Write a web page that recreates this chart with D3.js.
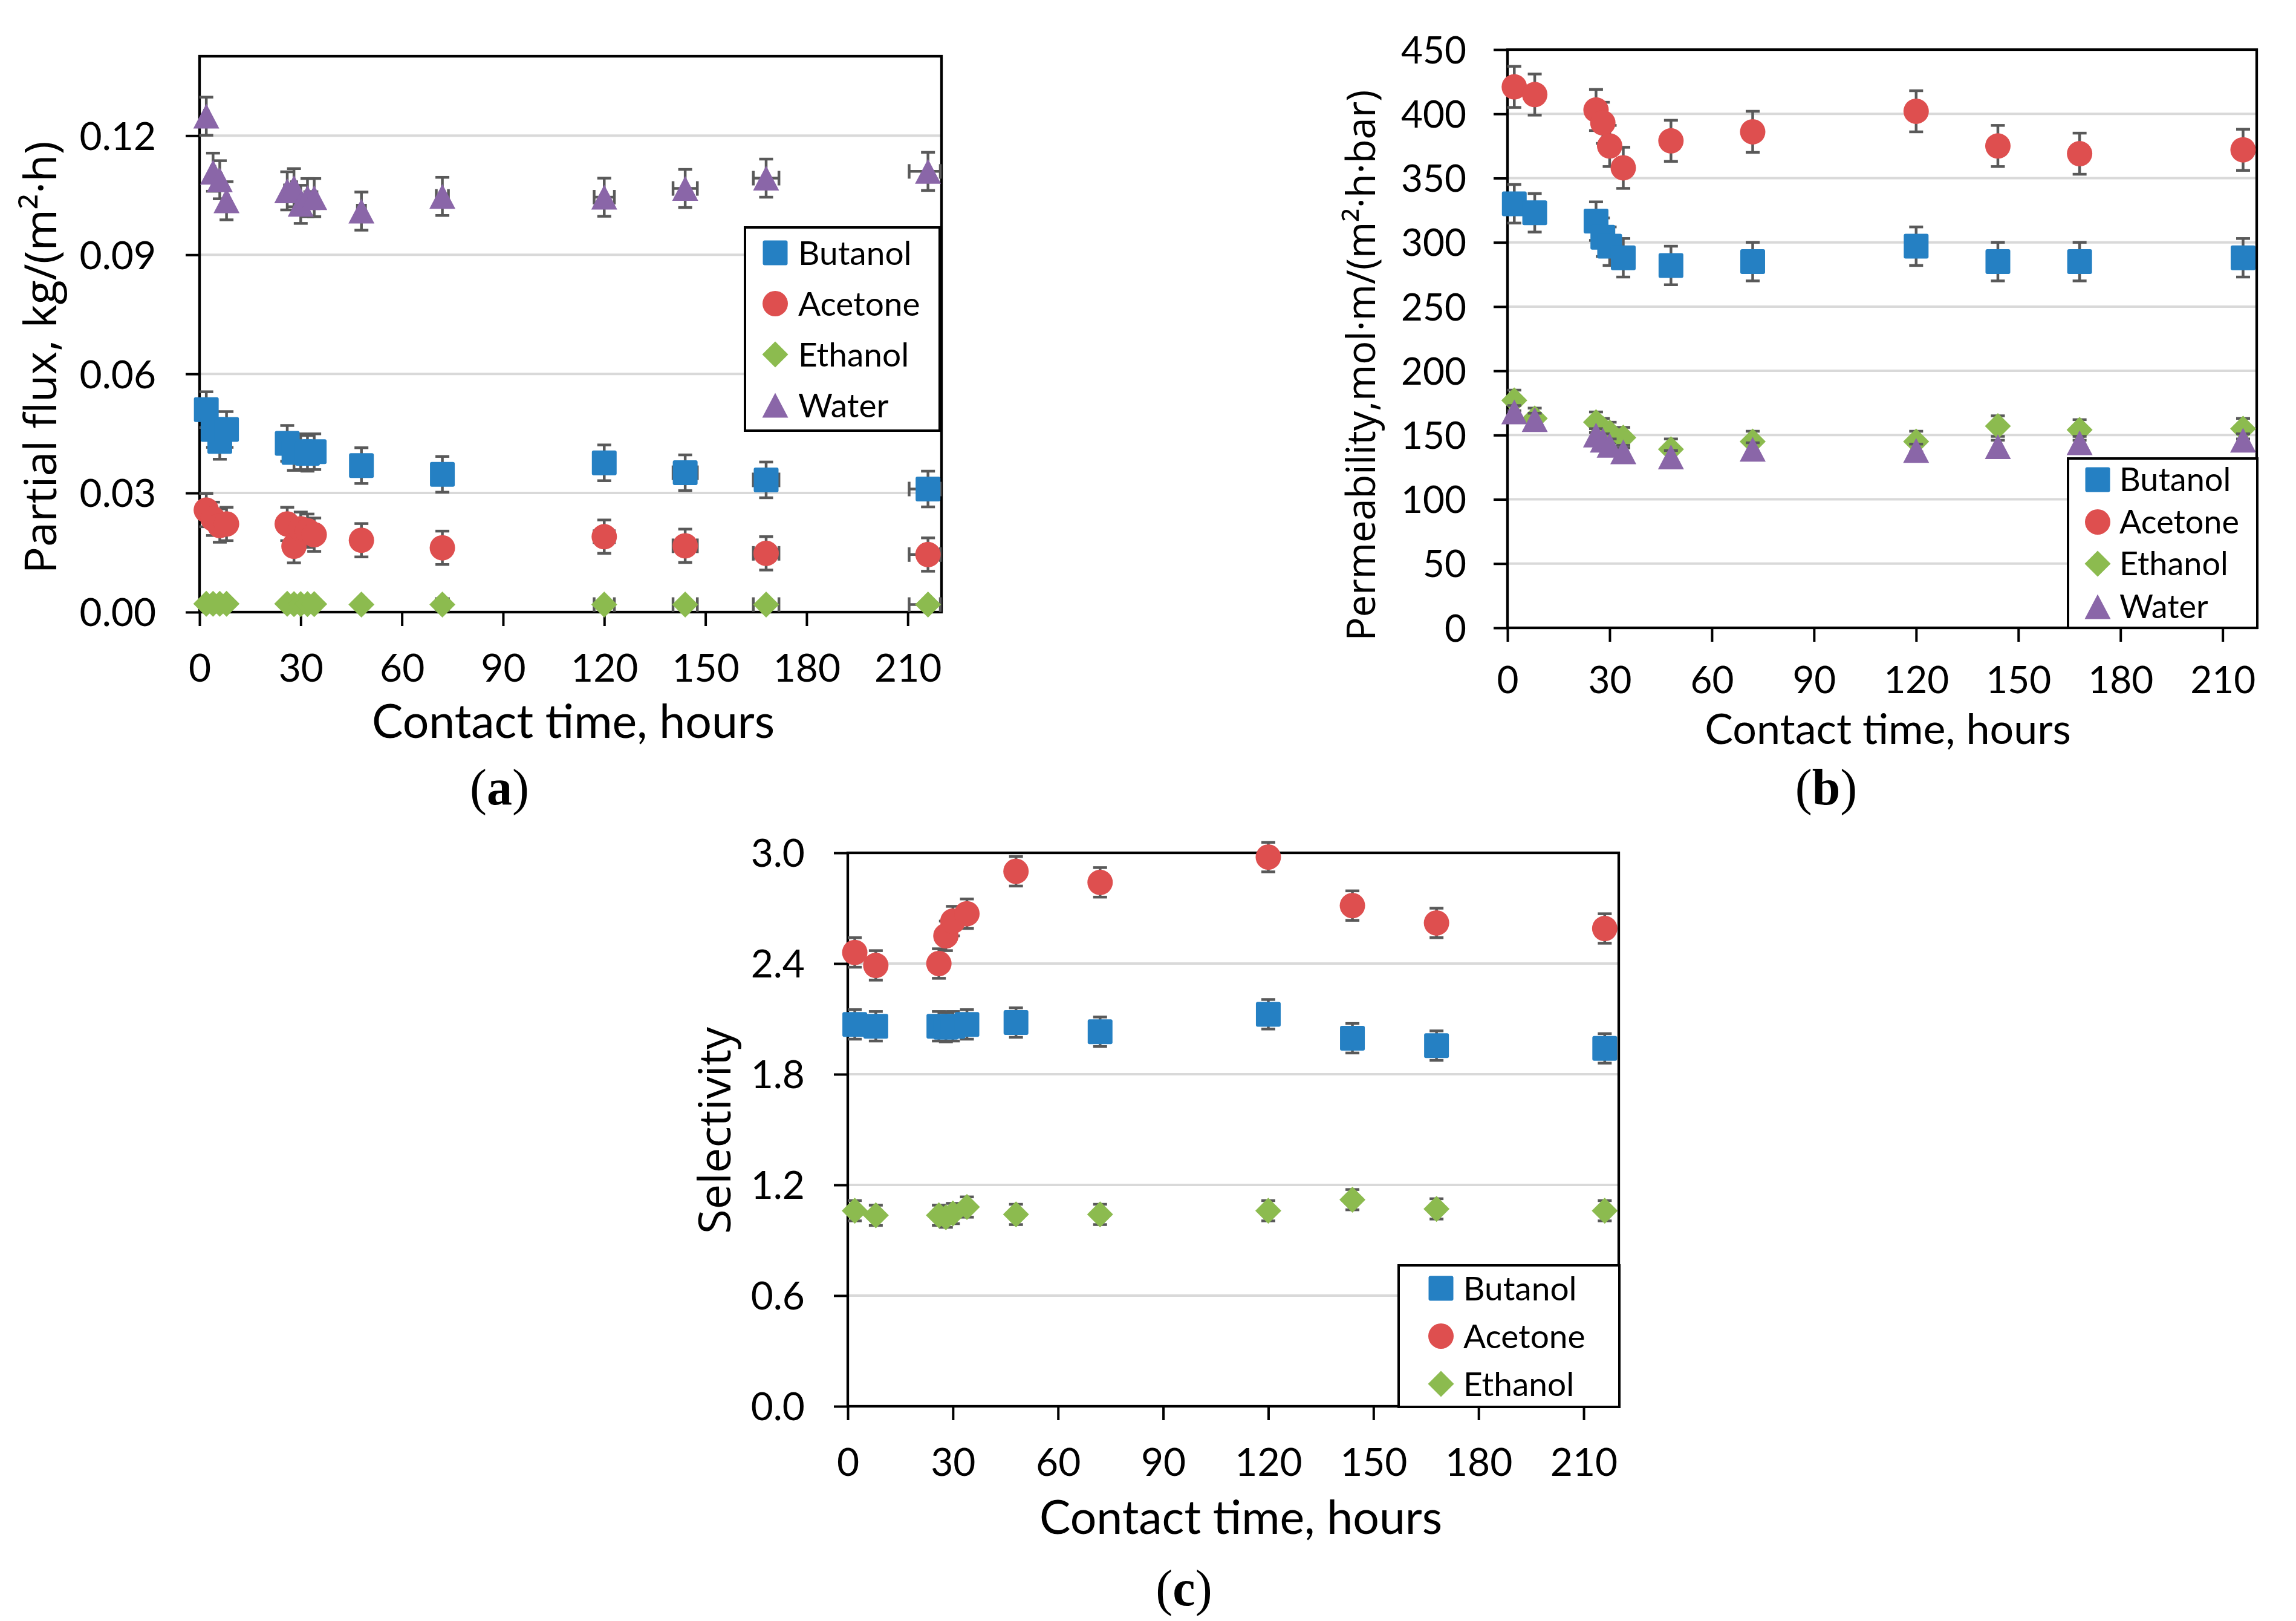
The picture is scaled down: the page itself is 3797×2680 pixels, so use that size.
<!DOCTYPE html>
<html>
<head>
<meta charset="utf-8">
<script src="https://cdn.jsdelivr.net/npm/d3@7"></script>
<style>
  html, body { margin: 0; padding: 0; background: #fff; }
  svg { display: block; }
</style>
</head>
<body>
<script>
// ---------------- DATA ----------------
const SERIES_NAMES = ["Butanol", "Acetone", "Ethanol", "Water"];
const X_TICKS = [0, 30, 60, 90, 120, 150, 180, 210];

// Panel (a): partial flux, kg/(m2 h)
const TIME_A = [2, 4, 6, 8, 26, 28, 30, 32, 34, 48, 72, 120, 144, 168, 216];
const BUTANOL_A = [0.051, 0.046, 0.043, 0.046, 0.0425, 0.0402, 0.0404, 0.0400, 0.0404, 0.0369, 0.0347, 0.0376, 0.0351, 0.0333, 0.0310];
const ACETONE_A = [0.0257, 0.0235, 0.0218, 0.0222, 0.0222, 0.0166, 0.0210, 0.0205, 0.0195, 0.0181, 0.0162, 0.0190, 0.0167, 0.0148, 0.0145];
const ETHANOL_A = [0.0021, 0.0021, 0.0021, 0.0021, 0.0021, 0.0020, 0.0020, 0.0020, 0.0020, 0.0019, 0.0019, 0.0019, 0.0019, 0.0019, 0.0019];
const WATER_A   = [0.1249, 0.1108, 0.1089, 0.1036, 0.1061, 0.1069, 0.1027, 0.1044, 0.1044, 0.1010, 0.1047, 0.1045, 0.1067, 0.1093, 0.1110];
const ERR_A = [0.0045, 0.0042, 0.0004, 0.0048];           // per series (B, A, E, W)
const XERR_A = [0.5, 0.5, 0.5, 0.5, 0.8, 0.8, 0.8, 0.8, 0.8, 1.2, 1.8, 3.0, 3.6, 3.8, 5.6];
const Y_TICKS_A = [0, 0.03, 0.06, 0.09, 0.12];

// Panel (b): permeability, mol m/(m2 h bar)
const TIME_B = [2, 8, 26, 28, 30, 34, 48, 72, 120, 144, 168, 216];
const BUTANOL_B = [330, 323, 316.5, 304, 297, 288, 282, 285, 297, 285, 285, 288];
const ACETONE_B = [421, 415, 403, 393, 375, 358, 379, 386, 402, 375, 369, 372];
const ETHANOL_B = [177, 163, 160, 155, 152, 148, 139, 145, 145, 157, 154, 155];
const WATER_B   = [168, 162, 150, 146, 142, 137, 133, 139, 138, 141, 144, 146];
const ERR_B = [15, 16, 8, 5];
const Y_TICKS_B = [0, 50, 100, 150, 200, 250, 300, 350, 400, 450];

// Panel (c): selectivity
const TIME_C = [2, 8, 26, 28, 30, 34, 48, 72, 120, 144, 168, 216];
const BUTANOL_C = [2.07, 2.06, 2.06, 2.055, 2.06, 2.07, 2.08, 2.03, 2.125, 1.995, 1.955, 1.94];
const ACETONE_C = [2.46, 2.39, 2.40, 2.55, 2.63, 2.67, 2.90, 2.84, 2.977, 2.714, 2.62, 2.59];
const ETHANOL_C = [1.06, 1.035, 1.035, 1.025, 1.045, 1.08, 1.04, 1.04, 1.06, 1.12, 1.07, 1.06];
const ERR_C = [0.08, 0.08, 0.055];
const Y_TICKS_C = [0, 0.6, 1.2, 1.8, 2.4, 3.0];

// ---------------- STYLE ----------------
const COLORS = { Butanol: "#2580C3", Acetone: "#DE4F4F", Ethanol: "#8CBB4F", Water: "#8A66A8" };
const SHAPES = { Butanol: "square", Acetone: "circle", Ethanol: "diamond", Water: "triangle" };
const ERR_COLOR = "#595959";
const GRID_COLOR = "#D9D9D9";
const NUM_FONT = "Lato, 'Open Sans', sans-serif";
const LABEL_FONT = "'Open Sans', 'Noto Sans', sans-serif";
const CAP_FONT = "'Liberation Serif', 'DejaVu Serif', serif";

const W = 3797, H = 2680;
const svg = d3.select("body").append("svg")
  .attr("width", W).attr("height", H).attr("viewBox", `0 0 ${W} ${H}`);
svg.append("rect").attr("width", W).attr("height", H).attr("fill", "#fff");

function shapePath(shape, s) {
  const h = s / 2;
  switch (shape) {
    case "diamond": return `M0,${-h - 1}L${h + 1},0L0,${h + 1}L${-h - 1},0Z`;
    case "triangle": return `M0,${-h}L${h + 1},${h}L${-h - 1},${h}Z`;
  }
  return null;
}
function drawMarker(g, shape, color, cx, cy, s) {
  if (shape === "square") {
    g.append("rect").attr("x", cx - s / 2).attr("y", cy - s / 2)
      .attr("width", s).attr("height", s).attr("rx", 3).attr("fill", color);
  } else if (shape === "circle") {
    g.append("circle").attr("cx", cx).attr("cy", cy).attr("r", s / 2 + 0.5).attr("fill", color);
  } else {
    g.append("path").attr("d", shapePath(shape, s))
      .attr("transform", `translate(${cx},${cy})`).attr("fill", color);
  }
}

function drawPanel(cfg) {
  const g = svg.append("g");
  const x = d3.scaleLinear().domain([0, 220]).range(cfg.xRange);
  const y = d3.scaleLinear().domain(cfg.yDomain).range(cfg.yRange);
  const [left, right] = cfg.xRange;
  const [bottom, top] = cfg.yRange;

  // gridlines
  g.append("g").selectAll("line").data(cfg.yTicks.filter(v => v > 0 && y(v) > top + 2))
    .join("line")
    .attr("x1", left).attr("x2", right)
    .attr("y1", d => y(d)).attr("y2", d => y(d))
    .attr("stroke", GRID_COLOR).attr("stroke-width", 4);

  // y axis
  const yAxis = d3.axisLeft(y).tickValues(cfg.yTicks).tickFormat(d3.format(cfg.yFormat))
    .tickSize(23).tickPadding(cfg.yPad);
  const ya = g.append("g").attr("transform", `translate(${left},0)`).call(yAxis);
  ya.select(".domain").remove();
  ya.selectAll(".tick line").attr("stroke", "#000").attr("stroke-width", 4);
  ya.selectAll(".tick text").attr("font-family", NUM_FONT).attr("font-size", cfg.tickFs)
    .attr("fill", "#000").attr("dy", null).attr("y", cfg.tickFs * 0.358);

  // x axis
  const xAxis = d3.axisBottom(x).tickValues(X_TICKS).tickFormat(d3.format("d"))
    .tickSize(23).tickPadding(0);
  const xa = g.append("g").attr("transform", `translate(0,${bottom})`).call(xAxis);
  xa.select(".domain").remove();
  xa.selectAll(".tick line").attr("stroke", "#000").attr("stroke-width", 4);
  xa.selectAll(".tick text").attr("font-family", NUM_FONT).attr("font-size", cfg.tickFs)
    .attr("fill", "#000").attr("dy", null).attr("y", cfg.xLabelOff);

  // plot frame
  g.append("rect").attr("x", left).attr("y", top)
    .attr("width", right - left).attr("height", bottom - top)
    .attr("fill", "none").attr("stroke", "#000").attr("stroke-width", 4.3);

  // series
  const S = 41;
  cfg.series.forEach((sr) => {
    const col = COLORS[sr.name], shp = SHAPES[sr.name];
    const eg = g.append("g");
    sr.values.forEach((v, i) => {
      const t = cfg.times[i];
      const cx = x(t), cy = y(v);
      const y1 = y(v - sr.err), y2 = y(v + sr.err);
      eg.append("line").attr("x1", cx).attr("x2", cx).attr("y1", y1).attr("y2", y2)
        .attr("stroke", ERR_COLOR).attr("stroke-width", 4.5);
      [y1, y2].forEach(yy => eg.append("line").attr("x1", cx - 11.5).attr("x2", cx + 11.5)
        .attr("y1", yy).attr("y2", yy).attr("stroke", ERR_COLOR).attr("stroke-width", 4.5));
      if (cfg.xerr) {
        const xe = cfg.xerr[i];
        const xl = x(t - xe), xr = Math.min(x(t + xe), right - 2);
        eg.append("line").attr("x1", xl).attr("x2", xr).attr("y1", cy).attr("y2", cy)
          .attr("stroke", ERR_COLOR).attr("stroke-width", 4.5);
        [xl, xr].forEach(xx => eg.append("line").attr("x1", xx).attr("x2", xx)
          .attr("y1", cy - 12).attr("y2", cy + 12).attr("stroke", ERR_COLOR).attr("stroke-width", 4.5));
      }
    });
    const mg = g.append("g");
    sr.values.forEach((v, i) => drawMarker(mg, shp, col, x(cfg.times[i]), y(v), S));
  });

  // legend
  const L = cfg.legend;
  const lg = g.append("g");
  lg.append("rect").attr("x", L.x0).attr("y", L.y0).attr("width", L.x1 - L.x0).attr("height", L.y1 - L.y0)
    .attr("fill", "#fff").attr("stroke", "#000").attr("stroke-width", 4);
  cfg.series.forEach((sr, i) => {
    const cy = L.rows[i];
    drawMarker(lg, SHAPES[sr.name], COLORS[sr.name], L.mx, cy, 41);
    lg.append("text").attr("x", L.tx).attr("y", cy + L.fs * 0.358)
      .attr("font-family", NUM_FONT).attr("font-size", L.fs).attr("fill", "#000").text(sr.name);
  });

  // axis titles
  g.append("text").attr("x", cfg.xTitle.x).attr("y", cfg.xTitle.y).attr("text-anchor", "middle")
    .attr("font-family", NUM_FONT).attr("font-size", cfg.xTitle.fs).attr("fill", "#000")
    .text("Contact time, hours");
  g.append("text").attr("transform", `translate(${cfg.yTitle.x},${cfg.yTitle.y}) rotate(-90)`)
    .attr("text-anchor", "middle").attr("font-family", LABEL_FONT).attr("font-size", cfg.yTitle.fs)
    .attr("fill", "#000").text(cfg.yTitle.text);

  // caption
  const cap = g.append("text").attr("x", cfg.caption.x).attr("y", cfg.caption.y).attr("text-anchor", "middle")
    .attr("font-family", CAP_FONT).attr("font-size", 84).attr("fill", "#000");
  cap.append("tspan").text("(");
  cap.append("tspan").attr("font-weight", "bold").text(cfg.caption.letter);
  cap.append("tspan").text(")");
}

drawPanel({
  xRange: [330, 1557], yDomain: [0, 0.14], yRange: [1012, 93],
  yTicks: Y_TICKS_A, yFormat: ".2f", yPad: 49, tickFs: 64, xLabelOff: 115,
  times: TIME_A, xerr: XERR_A,
  series: [
    { name: "Butanol", values: BUTANOL_A, err: ERR_A[0] },
    { name: "Acetone", values: ACETONE_A, err: ERR_A[1] },
    { name: "Ethanol", values: ETHANOL_A, err: ERR_A[2] },
    { name: "Water",   values: WATER_A,   err: ERR_A[3] }
  ],
  legend: { x0: 1232, x1: 1554, y0: 376, y1: 712, mx: 1282, tx: 1320, fs: 55, rows: [418, 502, 586, 670] },
  xTitle: { x: 948, y: 1220, fs: 77 },
  yTitle: { x: 93, y: 591, fs: 74, text: "Partial flux, kg/(m²·h)" },
  caption: { x: 826, y: 1330, letter: "a" }
});

drawPanel({
  xRange: [2493, 3732], yDomain: [0, 450], yRange: [1038, 82],
  yTicks: Y_TICKS_B, yFormat: "d", yPad: 45, tickFs: 62, xLabelOff: 108,
  times: TIME_B,
  series: [
    { name: "Butanol", values: BUTANOL_B, err: ERR_B[0] },
    { name: "Acetone", values: ACETONE_B, err: ERR_B[1] },
    { name: "Ethanol", values: ETHANOL_B, err: ERR_B[2] },
    { name: "Water",   values: WATER_B,   err: ERR_B[3] }
  ],
  legend: { x0: 3420, x1: 3733, y0: 758, y1: 1038, mx: 3469, tx: 3505, fs: 54, rows: [793, 863, 932, 1003] },
  xTitle: { x: 3122, y: 1230, fs: 70 },
  yTitle: { x: 2274, y: 604, fs: 65, text: "Permeability,mol·m/(m²·h·bar)" },
  caption: { x: 3020, y: 1330, letter: "b" }
});

drawPanel({
  xRange: [1402, 2677], yDomain: [0, 3], yRange: [2325, 1410],
  yTicks: Y_TICKS_C, yFormat: ".1f", yPad: 48, tickFs: 64, xLabelOff: 115,
  times: TIME_C,
  series: [
    { name: "Butanol", values: BUTANOL_C, err: ERR_C[0] },
    { name: "Acetone", values: ACETONE_C, err: ERR_C[1] },
    { name: "Ethanol", values: ETHANOL_C, err: ERR_C[2] }
  ],
  legend: { x0: 2313, x1: 2678, y0: 2092, y1: 2326, mx: 2383, tx: 2420, fs: 55, rows: [2130, 2209, 2288] },
  xTitle: { x: 2052, y: 2536, fs: 77 },
  yTitle: { x: 1208, y: 1869, fs: 74, text: "Selectivity" },
  caption: { x: 1958, y: 2654, letter: "c" }
});
</script>
</body>
</html>
